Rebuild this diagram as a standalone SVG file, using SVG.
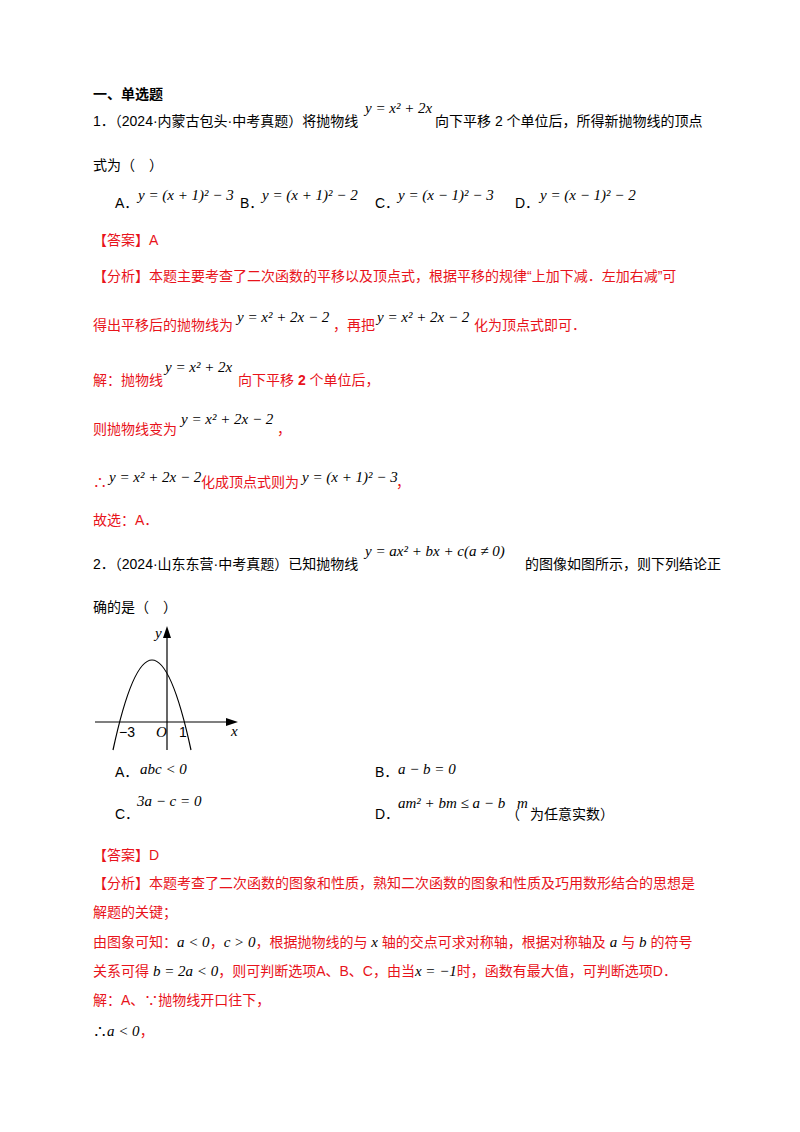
<svg xmlns="http://www.w3.org/2000/svg" width="800" height="1132" viewBox="0 0 800 1132">
<style>
text{font-family:"Liberation Sans","Noto Sans CJK SC",sans-serif;font-size:14px;fill:#000}
.r{fill:#e8131b}
.m{font-family:"Liberation Serif","Noto Sans CJK SC",serif;font-style:italic;font-size:15px}
.b{font-weight:bold}
</style>
<rect width="800" height="1132" fill="#fff"/>
<text x="93" y="99" class="b">一、单选题</text>
<text x="93" y="126">1．（2024·内蒙古包头·中考真题）将抛物线</text>
<text x="365" y="113" class="m">y = x² + 2x</text>
<text x="435" y="126">向下平移 2 个单位后，所得新抛物线的顶点</text>
<text x="93" y="170">式为（　）</text>
<text x="115" y="208">A．</text><text x="138" y="200" class="m">y = (x + 1)² − 3</text>
<text x="240" y="208">B．</text><text x="262" y="200" class="m">y = (x + 1)² − 2</text>
<text x="375" y="208">C．</text><text x="398" y="200" class="m">y = (x − 1)² − 3</text>
<text x="515" y="208">D．</text><text x="540" y="200" class="m">y = (x − 1)² − 2</text>
<text x="93" y="245" class="r">【答案】A</text>
<text x="93" y="281" class="r">【分析】本题主要考查了二次函数的平移以及顶点式，根据平移的规律“上加下减．左加右减”可</text>
<text x="93" y="330" class="r">得出平移后的抛物线为</text>
<text x="237" y="322" class="m">y = x² + 2x − 2</text>
<text x="333" y="330" class="r">，再把</text>
<text x="377" y="322" class="m">y = x² + 2x − 2</text>
<text x="474" y="330" class="r">化为顶点式即可．</text>
<text x="93" y="385" class="r">解：抛物线</text>
<text x="165" y="372" class="m">y = x² + 2x</text>
<text x="238" y="385" class="r">向下平移 <tspan class="b">2</tspan> 个单位后，</text>
<text x="93" y="434" class="r">则抛物线变为</text>
<text x="181" y="424" class="m">y = x² + 2x − 2</text>
<text x="277" y="434" class="r">，</text>
<text x="93" y="487" class="r">∴</text>
<text x="109" y="482" class="m">y = x² + 2x − 2</text>
<text x="201" y="487" class="r">化成顶点式则为</text>
<text x="302" y="482" class="m">y = (x + 1)² − 3</text>
<text x="396" y="487" class="r">，</text>
<text x="93" y="525" class="r">故选：A．</text>
<text x="93" y="569">2．（2024·山东东营·中考真题）已知抛物线</text>
<text x="365" y="556" class="m">y = ax² + bx + c(a ≠ 0)</text>
<text x="525" y="569">的图像如图所示，则下列结论正</text>
<text x="93" y="612">确的是（　）</text>
<g stroke="#000" fill="none" stroke-width="1.2">
<line x1="167" y1="750" x2="167" y2="634"/>
<line x1="95" y1="722" x2="230" y2="722"/>
<path d="M113 750 Q152 570 191 750"/>
</g>
<polygon points="167,626 163,638 171,638" fill="#000"/>
<polygon points="238,722 226,718 226,726" fill="#000"/>
<text x="155" y="638" class="m" font-size="12">y</text>
<text x="231" y="736" class="m" font-size="12">x</text>
<text x="119" y="737" font-family="Liberation Serif" font-size="12">−3</text>
<text x="156" y="737" class="m" font-size="12">O</text>
<text x="179" y="737" font-family="Liberation Serif" font-size="12">1</text>
<text x="115" y="777">A．</text><text x="140" y="774" class="m">abc &lt; 0</text>
<text x="375" y="777">B．</text><text x="398" y="774" class="m">a − b = 0</text>
<text x="115" y="819">C．</text><text x="137" y="806" class="m">3a − c = 0</text>
<text x="375" y="819">D．</text><text x="398" y="808" class="m">am² + bm ≤ a − b</text>
<text x="506" y="819">（</text><text x="517" y="808" class="m">m</text><text x="530" y="819">为任意实数）</text>
<text x="93" y="860" class="r">【答案】D</text>
<text x="93" y="888" class="r">【分析】本题考查了二次函数的图象和性质，熟知二次函数的图象和性质及巧用数形结合的思想是</text>
<text x="93" y="917" class="r">解题的关键；</text>
<text x="93" y="947" class="r">由图象可知：<tspan class="m" fill="#000">a &lt; 0</tspan>，<tspan class="m" fill="#000">c &gt; 0</tspan>，根据抛物线的与 <tspan class="m" fill="#000">x</tspan> 轴的交点可求对称轴，根据对称轴及 <tspan class="m" fill="#000">a</tspan> 与 <tspan class="m" fill="#000">b</tspan> 的符号</text>
<text x="93" y="976" class="r">关系可得 <tspan class="m" fill="#000">b = 2a &lt; 0</tspan>，则可判断选项A、B、C，由当<tspan class="m" fill="#000">x = −1</tspan>时，函数有最大值，可判断选项D．</text>
<text x="93" y="1005" class="r">解：A、∵抛物线开口往下，</text>
<text x="93" y="1036" class="r"><tspan fill="#000">∴</tspan><tspan class="m" fill="#000">a &lt; 0</tspan>，</text>
</svg>
